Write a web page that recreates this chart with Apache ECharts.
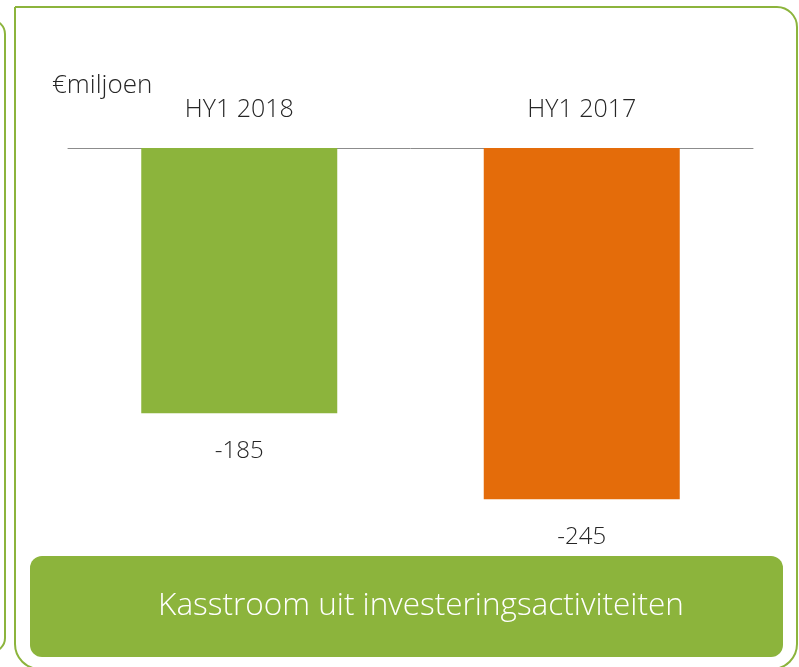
<!DOCTYPE html>
<html>
<head>
<meta charset="utf-8">
<script src="https://cdn.jsdelivr.net/npm/echarts@6/dist/echarts.min.js"></script>
<style>
  html, body { margin: 0; padding: 0; background: #fff; }
  #chart { width: 799px; height: 667px; }
</style>
</head>
<body>
<div id="chart"></div>
<script>
  // data
  const categories = ['HY1 2018', 'HY1 2017'];
  const values = [-185, -245];
  const unitLabel = '€miljoen';
  const bannerText = 'Kasstroom uit investeringsactiviteiten';

  const barColors = ['#8cb43c', '#e46c0a'];
  const green = '#8cb43c';
  const font = "'Open Sans', 'Noto Sans', sans-serif";
  const ink = '#262626';

  let myChart = echarts.init(document.getElementById('chart'));
  myChart.setOption({
    animation: false,
    textStyle: { fontFamily: font },
    grid: { left: 68, right: 46, top: 148, bottom: 89 },
    xAxis: {
      type: 'category',
      position: 'top',
      data: categories,
      axisLine: { lineStyle: { color: '#8c8c8c', width: 1 } },
      axisTick: { show: false },
      axisLabel: { fontSize: 25, color: ink, margin: 26, fontFamily: font, fontWeight: 300 }
    },
    yAxis: {
      type: 'value',
      min: -300,
      max: 0,
      show: false,
      splitLine: { show: false }
    },
    series: [{
      type: 'bar',
      barWidth: 196,
      data: values.map((v, i) => ({ value: v, itemStyle: { color: barColors[i] } })),
      label: {
        show: true,
        position: 'bottom',
        distance: 26,
        fontSize: 24,
        color: ink,
        fontFamily: font,
        fontWeight: 300
      }
    }],
    graphic: [
      // edge of the neighbouring panel
      {
        type: 'rect', silent: true,
        shape: { x: -30, y: 20, width: 35, height: 632, r: 14 },
        style: { fill: 'none', stroke: green, lineWidth: 2 }
      },
      // main panel border
      {
        type: 'rect', silent: true,
        shape: { x: 15, y: 7, width: 782, height: 662, r: [0, 20, 25, 25] },
        style: { fill: 'none', stroke: green, lineWidth: 2 }
      },
      {
        type: 'text', silent: true,
        style: {
          text: unitLabel, x: 52, y: 86, fontSize: 26, fill: ink,
          fontFamily: font, fontWeight: 300, textVerticalAlign: 'middle'
        }
      },
      // bottom banner
      {
        type: 'rect', silent: true,
        shape: { x: 30, y: 556, width: 753, height: 101, r: 12 },
        style: { fill: green }
      },
      {
        type: 'text', silent: true,
        style: {
          text: bannerText, x: 421, y: 606, fontSize: 31.5, fill: '#ffffff',
          fontFamily: font, fontWeight: 300, textAlign: 'center', textVerticalAlign: 'middle'
        }
      }
    ]
  });
</script>
</body>
</html>
